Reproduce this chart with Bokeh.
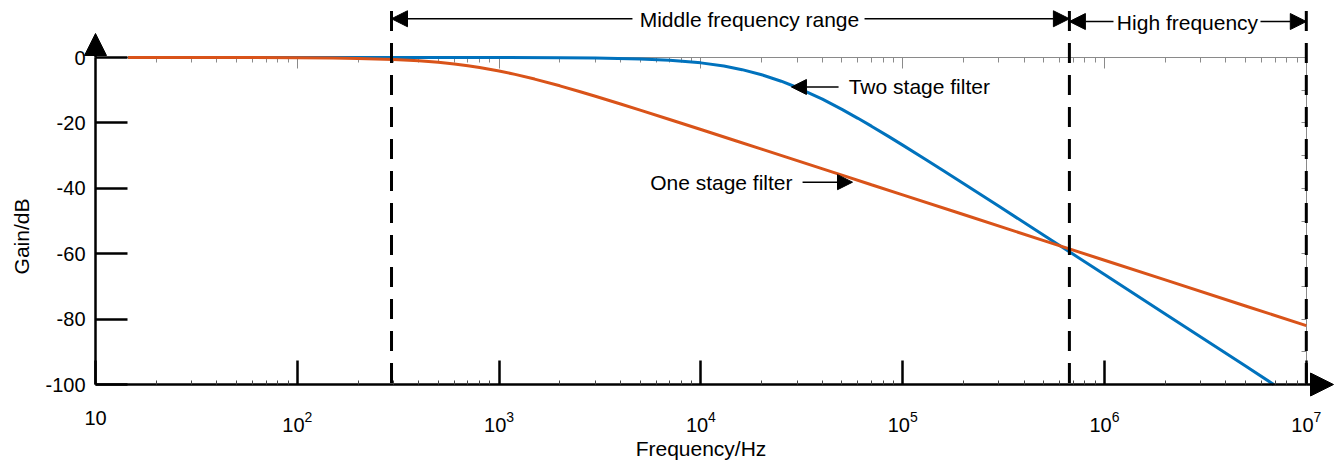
from bokeh.plotting import figure
from bokeh.models import (Range1d, LinearAxis, LogAxis, FixedTicker, LogTickFormatter,
                          CustomJSTickFormatter, Arrow, NormalHead, Label)
from bokeh.embed import file_html
from bokeh.resources import INLINE

# ---------------- data ----------------
freq_one = [14.5, 50, 100, 150, 200, 300, 400, 500, 600, 700, 800, 1000, 1200, 1500,
            2000, 2500, 3000, 4000, 5000, 7000, 1e4, 1.5e4, 2e4, 3e4, 5e4, 7e4, 1e5,
            2e5, 5e5, 1e6, 2e6, 5e6, 1e7]
gain_one = [0.0, -0.02, -0.07, -0.15, -0.27, -0.58, -0.98, -1.45, -1.96, -2.50, -3.04,
            -4.13, -5.16, -6.60, -8.66, -10.38, -11.84, -14.21, -16.09, -18.96, -22.03,
            -25.54, -28.03, -31.55, -35.98, -38.91, -42.0, -48.02, -55.98, -62.0, -68.02,
            -75.98, -82.0]

freq_two = [14.5, 100, 1000, 2000, 3000, 5000, 7000, 1e4, 1.3e4, 1.6e4, 2e4, 2.5e4, 3e4,
            4e4, 5e4, 6e4, 7e4, 8.5e4, 1e5, 1.3e5, 1.6e5, 2e5, 3e5, 5e5, 7e5, 1e6, 2e6,
            5e6, 6.9e6]
gain_two = [0.0, 0.0, -0.02, -0.07, -0.16, -0.44, -0.85, -1.64, -2.62, -3.72, -5.27, -7.25,
            -9.18, -12.74, -15.87, -18.60, -21.0, -24.12, -26.79, -31.18, -34.71, -38.53,
            -45.51, -54.36, -60.19, -66.38, -78.42, -94.34, -100.0]

x_ticks = [10, 100, 1e3, 1e4, 1e5, 1e6, 1e7]
x_minor = [m * d for d in [10, 100, 1e3, 1e4, 1e5, 1e6] for m in range(2, 10)]
y_ticks = [0, -20, -40, -60, -80, -100]
y_right_ticks = [0, -10, -20, -30, -40, -50, -60, -70, -80, -90, -100]

band_edges = [293, 6.7e5, 1e7]      # dashed frequency-range boundaries (Hz)
band_labels = ["Middle frequency range", "High frequency"]

BLUE = "#0072BD"
ORANGE = "#D95319"
FONT = "Liberation Sans"

# ---------------- layout ----------------
DEC = 201.8      # pixels per decade
DB = 3.27        # pixels per dB
W, H = 1335, 466
X0, Y0 = 95, 57  # pixel of (10 Hz, 0 dB) inside the canvas

p = figure(width=W, height=H, x_axis_type="log",
           x_axis_location=None, y_axis_location=None,
           x_range=Range1d(10 ** (1 - X0 / DEC), 10 ** (1 + (W - X0) / DEC)),
           y_range=Range1d(-(H - Y0) / DB, Y0 / DB),
           output_backend="svg", toolbar_location=None,
           min_border=0, outline_line_color=None, background_fill_color="white")
for g in p.grid:
    g.visible = False

blank = CustomJSTickFormatter(code="return ''")

# thin grey box axes (top and right)
top_ax = LogAxis(fixed_location=0, bounds=(10, 1e7),
                 ticker=FixedTicker(ticks=x_ticks, minor_ticks=x_minor), formatter=blank,
                 axis_line_color="#8a8a8a", axis_line_width=1,
                 major_tick_line_color="#8a8a8a", major_tick_in=0, major_tick_out=11,
                 minor_tick_line_color="#8a8a8a", minor_tick_in=0, minor_tick_out=5,
                 major_label_text_font_size="1px")
top_ax.level = "underlay"
p.add_layout(top_ax, "below")

right_ax = LinearAxis(fixed_location=1e7, bounds=(-100, 0),
                      ticker=FixedTicker(ticks=y_right_ticks), formatter=blank,
                      axis_line_color="#8a8a8a", axis_line_width=1,
                      major_tick_line_color="#8a8a8a", major_tick_in=0, major_tick_out=5,
                      minor_tick_line_color=None, major_label_text_font_size="1px")
right_ax.level = "underlay"
p.add_layout(right_ax, "left")

# curves (two-stage drawn first, as in the original)
p.line(freq_two, gain_two, line_color=BLUE, line_width=3)
p.line(freq_one, gain_one, line_color=ORANGE, line_width=3)

# dashed range boundaries
p.segment(x0=band_edges, y0=[14.2] * 3, x1=band_edges, y1=[-100] * 3,
          line_color="black", line_width=3, line_dash="20 12")

# main black axes
x_ax = LogAxis(fixed_location=-100, bounds=(10, 1e7),
               ticker=FixedTicker(ticks=x_ticks, minor_ticks=x_minor),
               formatter=LogTickFormatter(min_exponent=2),
               axis_line_color="black", axis_line_width=2.5,
               major_tick_line_color="black", major_tick_line_width=2.5,
               major_tick_in=24, major_tick_out=0,
               minor_tick_line_color="#444444", minor_tick_line_width=1,
               minor_tick_in=4, minor_tick_out=0,
               major_label_text_font=FONT, major_label_text_font_size="20px",
               major_label_text_color="black", major_label_standoff=26,
               axis_label="Frequency/Hz", axis_label_text_font=FONT,
               axis_label_text_font_size="21px", axis_label_text_font_style="normal",
               axis_label_text_color="black", axis_label_standoff=2)
p.add_layout(x_ax, "below")

y_ax = LinearAxis(fixed_location=10, bounds=(-100, 0),
                  ticker=FixedTicker(ticks=y_ticks),
                  major_label_overrides={t: str(t) for t in y_ticks},
                  axis_line_color="black", axis_line_width=2.5,
                  major_tick_line_color="black", major_tick_line_width=2.5,
                  major_tick_in=32, major_tick_out=0, minor_tick_line_color=None,
                  major_label_text_font=FONT, major_label_text_font_size="20px",
                  major_label_text_color="black", major_label_standoff=10)
p.add_layout(y_ax, "left")

# axis title for the gain axis (line-less axis carrying only the title)
y_title_ax = LinearAxis(fixed_location=10, bounds=(-109.4, 0),
                        ticker=FixedTicker(ticks=[]), axis_line_color=None,
                        major_tick_line_color=None, minor_tick_line_color=None,
                        axis_label="Gain/dB", axis_label_text_font=FONT,
                        axis_label_text_font_size="21px",
                        axis_label_text_font_style="normal",
                        axis_label_text_color="black", axis_label_standoff=63)
p.add_layout(y_title_ax, "left")

# axis arrowheads
p.add_layout(Arrow(end=NormalHead(size=22, fill_color="black", line_color="black"),
                   x_start=10, y_start=0, x_end=10, y_end=7.34,
                   line_color="black", line_width=2.5))
p.add_layout(Arrow(end=NormalHead(size=23, fill_color="black", line_color="black"),
                   x_start=1e7, y_start=-100, x_end=1.364e7, y_end=-100,
                   line_color="black", line_width=2.5))


def arrow(xs, xe, y, size=16):
    p.add_layout(Arrow(end=NormalHead(size=size, fill_color="black", line_color="black",
                                      line_width=1),
                       x_start=xs, y_start=y, x_end=xe, y_end=y,
                       line_color="black", line_width=1.5))


def label(x, y, text, align):
    p.add_layout(Label(x=x, y=y, text=text, text_align=align, text_baseline="middle",
                       text_font=FONT, text_font_size="21px", text_color="black"))


# frequency range annotations
arrow(4580, band_edges[0], 11.85)
arrow(64700, band_edges[1], 11.85)
label(17400, 11.5, band_labels[0], "center")
arrow(1.108e6, band_edges[1], 11.0)
arrow(5.93e6, band_edges[2], 11.0)
label(2.578e6, 10.8, band_labels[1], "center")

# curve callouts
arrow(48100, 28100, -9.02, 15)
label(54000, -9.0, "Two stage filter", "left")
arrow(31900, 56400, -38.13, 15)
label(28450, -38.1, "One stage filter", "right")

open("out.html", "w").write(file_html(p, INLINE))
